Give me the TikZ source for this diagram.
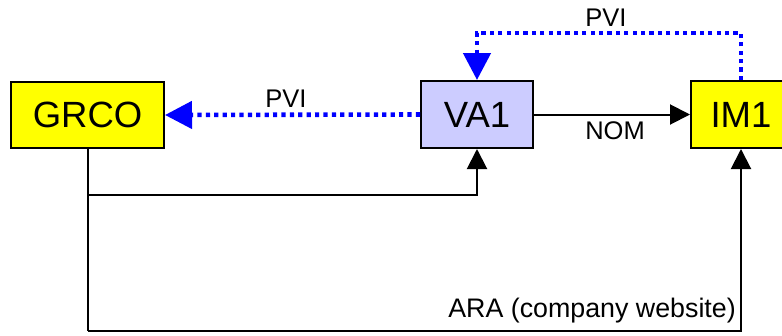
\documentclass[tikz,border=0pt]{standalone}
\usepackage{fontspec}
\setmainfont{Liberation Sans}
\usetikzlibrary{arrows.meta}
\definecolor{boxyellow}{HTML}{FFFF00}
\definecolor{boxlav}{HTML}{CCCCFF}
\definecolor{pviblue}{HTML}{0000FF}
\begin{document}
\begin{tikzpicture}[x=1pt,y=-1pt,
  box/.style={draw=black,line width=2pt,inner sep=0pt,font=\fontsize{36.5}{40}\selectfont},
  lbl/.style={font=\fontsize{25.5}{28}\selectfont,inner sep=0pt},
  conn/.style={draw=black,line width=2pt,-{Triangle[length=20pt,width=20pt]}},
  plain/.style={draw=black,line width=2pt},
  pvi/.style={draw=pviblue,line width=4.6pt,dash pattern=on 4.2pt off 4.2pt,-{Triangle[length=27pt,width=27pt]}}]
\useasboundingbox (0,0) rectangle (782,335);
\node[box,fill=boxyellow,minimum width=153pt,minimum height=66pt] (grco) at (87.5,115) {GRCO};
\node[box,fill=boxlav,minimum width=112pt,minimum height=67pt] (va1) at (477,114.5) {VA1};
\node[box,fill=boxyellow,minimum width=100pt,minimum height=67pt] (im1) at (741,114.5) {IM1};
\coordinate (c1) at (87.5,195);
\coordinate (c2) at (477,195);
\coordinate (c3) at (87.5,331);
\coordinate (c4) at (741,331);
\coordinate (t1) at (741,33);
\coordinate (t2) at (477,33);
% connectors
\draw[conn] (va1.east) -- (im1.west);
\draw[plain] (grco.south) -- (c3);
\draw[conn] (c1) -- (c2) -- (va1.south);
\draw[conn] (c3) -- (c4) -- (im1.south);
\draw[pvi] (va1.west) -- (grco.east);
\draw[pvi] (im1.north) -- (t1) -- (t2) -- (va1.north);
% labels
\node[lbl] (lpvi1) at (286,99) {PVI};
\node[lbl] (lpvi2) at (606,18) {PVI};
\node[lbl] (lnom) at (615,131) {NOM};
\node[lbl,anchor=east,font=\fontsize{26.8}{30}\selectfont] (lara) at (736,311) {ARA (company website)};
\end{tikzpicture}
\end{document}
